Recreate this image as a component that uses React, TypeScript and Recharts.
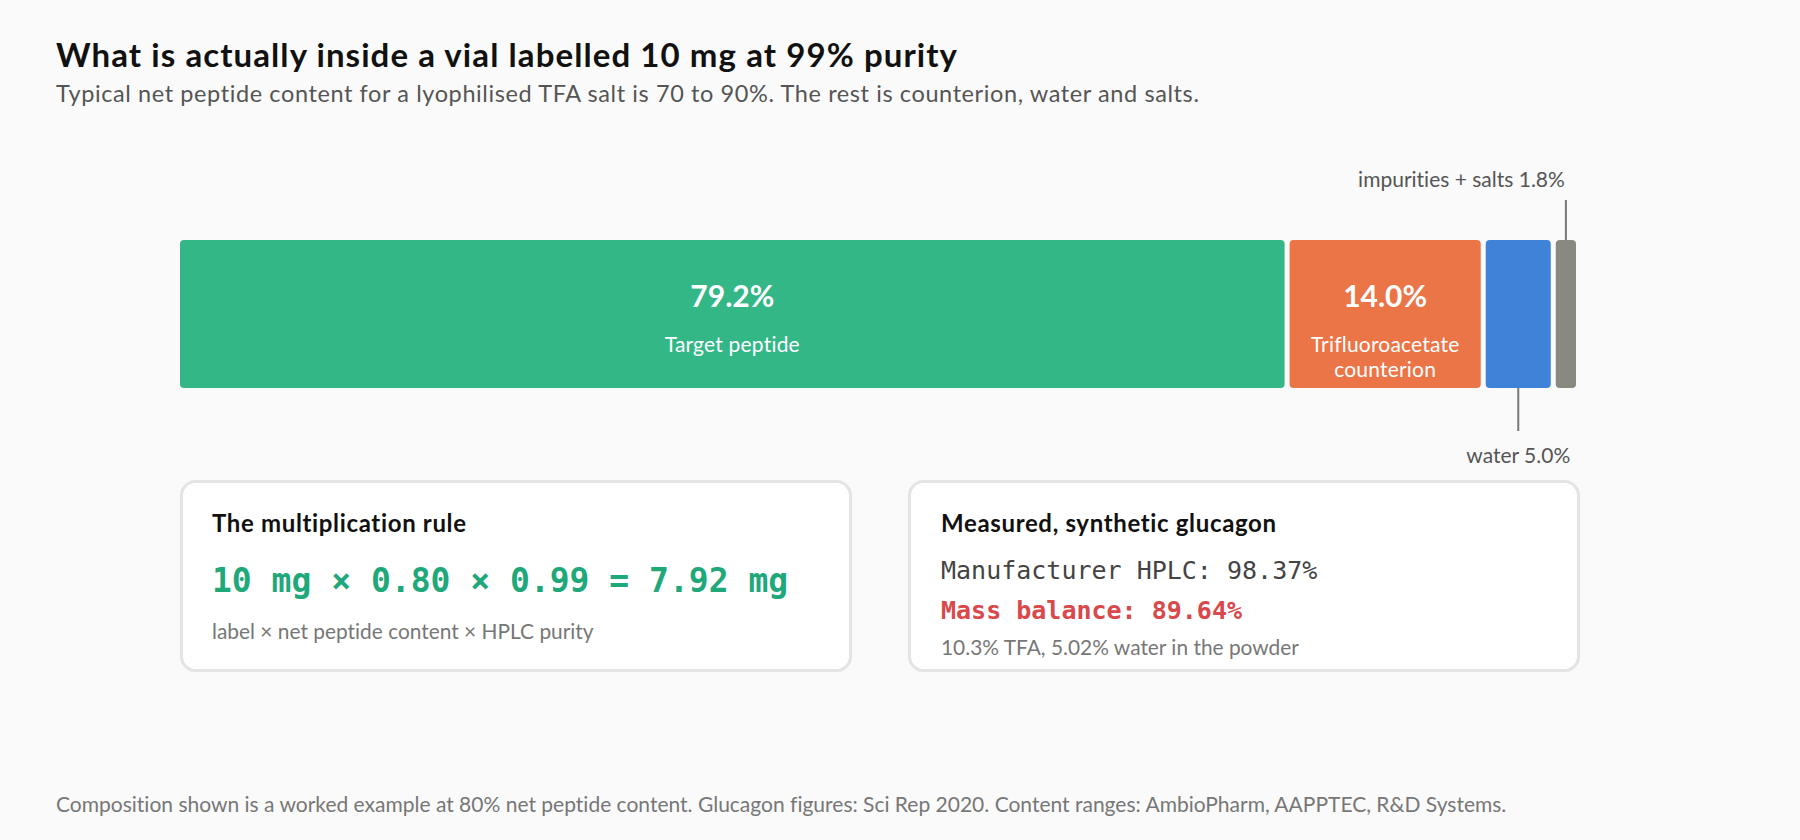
import { Bar, BarChart, XAxis, YAxis } from "recharts";

// composition of a 10 mg vial at 80% net peptide content
const components = ["Target peptide", "Trifluoroacetate counterion", "water", "impurities + salts"];
const shares = [79.2, 14.0, 5.0, 1.8];
const keys = ["peptide", "tfa", "water", "other"];

const palette = ["#33b787", "#eb7547", "#3e83d8", "#89897f"];

const rows = [
  keys.reduce((row, k, i) => ({ ...row, [k]: shares[i] }), { name: "vial" } as Record<string, number | string>),
];

const FONT = "Lato, 'Noto Sans', sans-serif";
const MONO = "'DejaVu Sans Mono', 'Liberation Mono', monospace";
const GAP = 5;
const noLig = { fontVariantLigatures: "none" as const };

function Segment(props: any) {
  const { x, y, width, height, fill, seg } = props;
  const w = Math.max(0, width - GAP);
  const cx = x + w / 2;
  const label = components[seg];
  const pct = `${shares[seg].toFixed(1)}%`;
  const rect = <rect x={x} y={y} width={w} height={height} rx={4} ry={4} fill={fill} />;

  if (w > 120) {
    const lines = w < 300 ? label.split(" ") : [label];
    return (
      <g style={noLig}>
        {rect}
        <text x={cx} y={y + 67} textAnchor="middle" fill="#fff" fontFamily={FONT} fontWeight={700} fontSize={30}>
          {pct}
        </text>
        {lines.map((l, i) => (
          <text key={i} x={cx} y={y + 112 + i * 25} textAnchor="middle" fill="#fff" fontFamily={FONT} fontSize={21} letterSpacing={0.2}>
            {l}
          </text>
        ))}
      </g>
    );
  }

  const above = seg === components.length - 1;
  return (
    <g style={noLig}>
      {above ? (
        <line x1={cx} x2={cx} y1={y - 40} y2={y} stroke="#777" strokeWidth={2} />
      ) : (
        <line x1={cx} x2={cx} y1={y + height} y2={y + height + 43} stroke="#777" strokeWidth={2} />
      )}
      {rect}
      <text
        x={above ? cx - 1 : cx}
        y={above ? y - 53 : y + height + 75}
        textAnchor={above ? "end" : "middle"}
        fill="#555"
        fontFamily={FONT}
        fontSize={21}
      >
        {`${label} ${pct}`}
      </text>
    </g>
  );
}

function Card({ x, children }: { x: number; children: any }) {
  return (
    <g>
      <rect x={x + 1.5} y={481.5} width={669} height={189} rx={14} ry={14} fill="#fff" stroke="#e4e4e4" strokeWidth={3} />
      {children}
    </g>
  );
}

export default function App() {
  return (
    <div style={{ position: "absolute", left: 0, top: 0, width: 1800, height: 840, background: "#fafafa", overflow: "hidden" }}>
      <svg width={1800} height={840} style={{ position: "absolute", left: 0, top: 0, ...noLig }}>
        <text x={56} y={67} fontFamily={FONT} fontWeight={700} fontSize={33} letterSpacing={1.08} fill="#111">
          What is actually inside a vial labelled 10 mg at 99% purity
        </text>
        <text x={56} y={102} fontFamily={FONT} fontSize={23.5} letterSpacing={0.6} fill="#555">
          Typical net peptide content for a lyophilised TFA salt is 70 to 90%. The rest is counterion, water and salts.
        </text>

        <Card x={180}>
          <text x={212} y={532} fontFamily={FONT} fontWeight={700} fontSize={24} letterSpacing={0.65} fill="#111">
            The multiplication rule
          </text>
          <text x={212} y={592} fontFamily={MONO} fontWeight={700} fontSize={33} fill="#1fa87a">
            10 mg × 0.80 × 0.99 = 7.92 mg
          </text>
          <text x={212} y={639} fontFamily={FONT} fontSize={20.9} fill="#777">
            label × net peptide content × HPLC purity
          </text>
        </Card>

        <Card x={908}>
          <text x={941} y={532} fontFamily={FONT} fontWeight={700} fontSize={24} letterSpacing={0.65} fill="#111">
            Measured, synthetic glucagon
          </text>
          <text x={941} y={579} fontFamily={MONO} fontSize={25} fill="#444">
            Manufacturer HPLC: 98.37%
          </text>
          <text x={941} y={619} fontFamily={MONO} fontWeight={700} fontSize={25} fill="#d9484b">
            Mass balance: 89.64%
          </text>
          <text x={941} y={655} fontFamily={FONT} fontSize={20.9} fill="#777">
            10.3% TFA, 5.02% water in the powder
          </text>
        </Card>

        <text x={56} y={812} fontFamily={FONT} fontSize={21} fill="#777">
          Composition shown is a worked example at 80% net peptide content. Glucagon figures: Sci Rep 2020. Content ranges: AmbioPharm, AAPPTEC, R&amp;D Systems.
        </text>
      </svg>

      <div style={{ position: "absolute", left: 0, top: 0 }}>
        <BarChart
          width={1800}
          height={840}
          data={rows}
          layout="vertical"
          margin={{ top: 240, right: 219, bottom: 452, left: 180 }}
          barCategoryGap={0}
        >
          <XAxis type="number" domain={[0, 100]} hide />
          <YAxis type="category" dataKey="name" hide />
          {keys.map((k, i) => (
            <Bar
              key={k}
              dataKey={k}
              stackId="vial"
              fill={palette[i]}
              isAnimationActive={false}
              shape={(p: any) => <Segment {...p} seg={i} />}
            />
          ))}
        </BarChart>
      </div>
    </div>
  );
}
